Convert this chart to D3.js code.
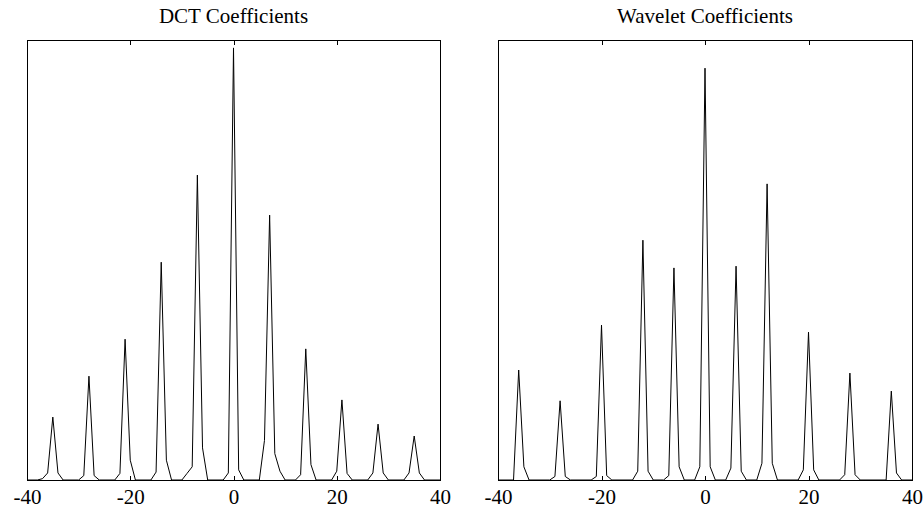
<!DOCTYPE html>
<html>
<head>
<meta charset="utf-8">
<script src="https://cdn.jsdelivr.net/npm/d3@7"></script>
<style>
  body { margin: 0; background: #fff; }
  text { font-family: "Liberation Serif", "Times New Roman", serif; fill: #000; }
</style>
</head>
<body>
<div id="chart"></div>
<script>
// polyline vertices (x = coefficient value, y = relative frequency)
const dctX = [-40, -38, -37, -36, -35, -34, -33,
  -30, -29, -28, -27, -26,
  -23, -22, -21, -20, -19,
  -16, -15, -14, -13, -12,
  -10, -9, -8, -7, -6, -5,
  -2, -1, 0, 1, 2,
  5, 6, 7, 8, 9, 10,
  12, 13, 14, 15, 16,
  19, 20, 21, 22, 23,
  26, 27, 28, 29, 30,
  33, 34, 35, 36, 37, 40]
const dctY = [0, 0, 0.003, 0.016, 0.143, 0.016, 0,
  0, 0.01, 0.236, 0.01, 0,
  0, 0.015, 0.32, 0.045, 0,
  0, 0.018, 0.495, 0.045, 0,
  0, 0.015, 0.03, 0.693, 0.073, 0,
  0, 0.016, 0.982, 0.023, 0,
  0, 0.09, 0.602, 0.06, 0.02, 0,
  0, 0.012, 0.298, 0.035, 0,
  0, 0.02, 0.182, 0.015, 0,
  0, 0.016, 0.127, 0.016, 0,
  0, 0.016, 0.1, 0.016, 0, 0]

const wavX = [-40, -37, -36, -35, -34,
  -30, -29, -28, -27, -26,
  -22, -21, -20, -19, -18,
  -14, -13, -12, -11, -10,
  -8, -7, -6, -5, -4,
  -2, -1, 0, 1, 2,
  4, 5, 6, 7, 8,
  10, 11, 12, 13, 14,
  18, 19, 20, 21, 22,
  26, 27, 28, 29, 30,
  35, 36, 37, 38, 40]
const wavY = [0, 0, 0.25, 0.03, 0,
  0, 0.008, 0.18, 0.008, 0,
  0, 0.008, 0.352, 0.01, 0,
  0, 0.02, 0.545, 0.02, 0,
  0, 0.01, 0.482, 0.03, 0,
  0, 0.03, 0.936, 0.03, 0,
  0, 0.027, 0.486, 0.02, 0,
  0, 0.038, 0.673, 0.038, 0,
  0, 0.023, 0.336, 0.023, 0,
  0, 0.012, 0.243, 0.012, 0,
  0, 0.202, 0.016, 0, 0]

const xTicks = [-40, -20, 0, 20, 40]
const titles = ["DCT Coefficients", "Wavelet Coefficients"]

const width = 923
const height = 510

const svg = d3.select("#chart")
  .append("svg")
  .attr("width", width)
  .attr("height", height)

const panels = [
  { title: titles[0], xs: dctX, ys: dctY, left: 27, right: 440 },
  { title: titles[1], xs: wavX, ys: wavY, left: 498, right: 912 }
]
const plotTop = 40, plotBottom = 480
const tickLen = 4.5

panels.forEach(function (p) {
  const x = d3.scaleLinear().domain([-40, 40]).range([p.left, p.right])
  const y = d3.scaleLinear().domain([0, 1]).range([plotBottom, plotTop])

  const g = svg.append("g")

  // the curve
  const pts = p.xs.map((v, i) => [v, p.ys[i]])
  g.append("path")
    .datum(pts)
    .attr("fill", "none")
    .attr("stroke", "#000")
    .attr("stroke-width", 1)
    .attr("d", d3.line().x(d => x(d[0])).y(d => y(d[1])))

  // box
  g.append("rect")
    .attr("x", p.left + 0.5)
    .attr("y", plotTop + 0.5)
    .attr("width", p.right - p.left)
    .attr("height", plotBottom - plotTop)
    .attr("fill", "none")
    .attr("stroke", "#000")
    .attr("stroke-width", 1)
    .attr("shape-rendering", "crispEdges")

  // bottom axis, ticks pointing inward, labels below (plain hyphen minus like matlab)
  const xAxis = d3.axisBottom(x)
    .tickValues(xTicks)
    .tickSizeInner(-tickLen)
    .tickSizeOuter(0)
    .tickPadding(9)
    .tickFormat(d => String(d))
  const ax = g.append("g")
    .attr("transform", "translate(0," + (plotBottom + 0.5) + ")")
    .call(xAxis)
  ax.select(".domain").remove()
  ax.selectAll("line").attr("stroke", "#000").attr("shape-rendering", "crispEdges")
  ax.selectAll("text")
    .style("font-family", "'Liberation Serif', 'Times New Roman', serif")
    .style("font-size", "21px")
    .attr("fill", "#000")

  // top ticks
  const topAx = g.append("g")
    .attr("transform", "translate(0," + (plotTop + 0.5) + ")")
    .call(d3.axisTop(x).tickValues(xTicks).tickSizeInner(-tickLen).tickSizeOuter(0).tickFormat(""))
  topAx.select(".domain").remove()
  topAx.selectAll("line").attr("stroke", "#000").attr("shape-rendering", "crispEdges")

  // title
  g.append("text")
    .attr("x", (p.left + p.right) / 2)
    .attr("y", 23)
    .attr("text-anchor", "middle")
    .style("font-size", "21px")
    .text(p.title)
})
</script>
</body>
</html>
